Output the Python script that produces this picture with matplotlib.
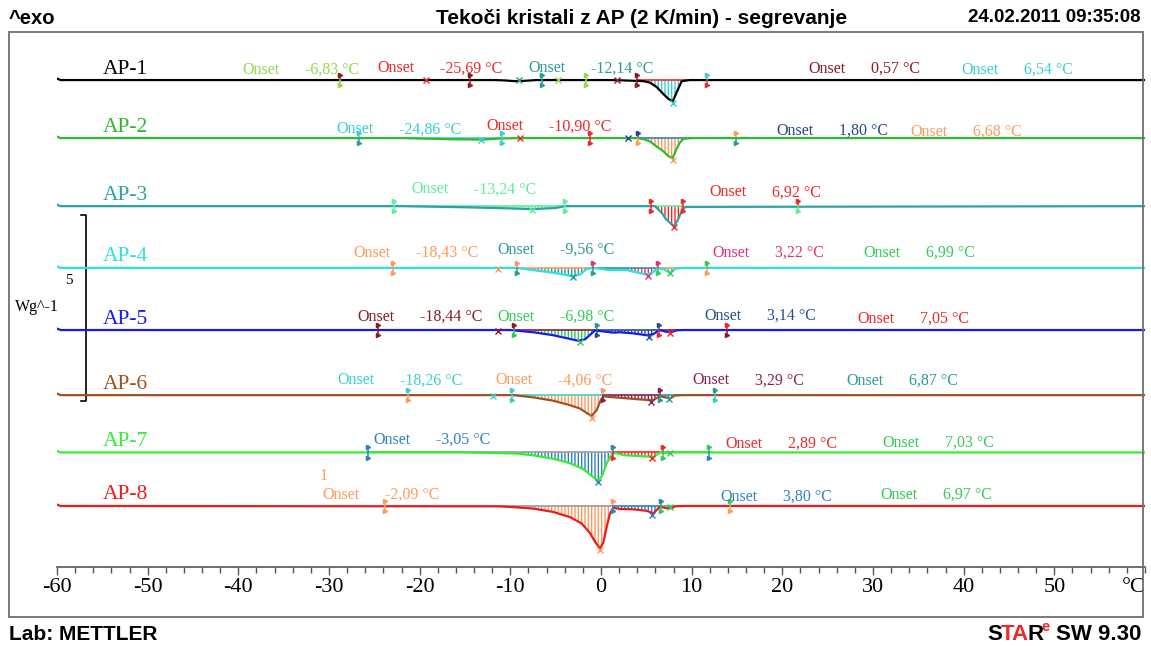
import numpy as np
import matplotlib.pyplot as plt
from matplotlib.patches import Rectangle

W, H = 1151, 646
SERIF = "Liberation Serif"
SANS = "Liberation Sans"

# annotation colours
YG = "#8fd94a"
RED = "#f02828"
TEAL = "#2a9a9a"
DRED = "#8b1c24"
CYAN = "#3ccfcf"
ORANGE = "#ff9a5c"
DBLUE = "#24478f"
LGREEN = "#5eeea0"
MAG = "#e0307e"
GREEN = "#33cc55"
NAVY = "#24508f"
DMAG = "#8b1f55"
BLUE = "#2e82c4"

names = ["AP-1", "AP-2", "AP-3", "AP-4", "AP-5", "AP-6", "AP-7", "AP-8"]
curve_colors = ["#000000", "#2dbb2d", "#2aa3a3", "#2ee0e0",
                "#1a1aee", "#a0521e", "#33ee33", "#ee1a1a"]
# display offset of every curve, W/g
offsets = [13.09, 11.53, 9.70, 8.04, 6.37, 4.62, 3.08, 1.64]

# heating curves: temperature (°C) and heat flow (W/g) relative to the offset
ap1_t = [-60.0, -59.6, -11.7, -10.6, -9.5, -8.4, -7.1, 1.0, 2.6, 4.7, 5.4, 6.1,
         6.9, 7.4, 7.9, 8.4, 8.9, 9.8, 60.0]
ap1_hf = [0.04, 0.0, 0.0, -0.01, -0.03, -0.02, 0.0, 0.0, -0.01, -0.03, -0.07, -0.18,
          -0.38, -0.50, -0.58, -0.30, -0.03, 0.0, 0.0]

ap2_t = [-60.0, -59.6, -22.0, -17.0, -13.0, -11.0, -9.0, 4.0, 4.7, 5.4, 6.1, 6.9,
         7.4, 7.9, 8.3, 8.7, 9.1, 10.0, 60.0]
ap2_hf = [0.04, 0.0, 0.0, -0.03, -0.04, -0.01, 0.0, 0.0, -0.03, -0.09, -0.22, -0.36,
          -0.48, -0.54, -0.31, -0.12, -0.02, 0.0, 0.0]

ap3_t = [-60.0, -59.6, -22.0, -15.0, -10.0, -7.6, -5.0, -4.0, 5.95, 6.7, 7.2, 8.05,
         8.5, 8.9, 9.3, 60.0]
ap3_hf = [0.04, 0.0, 0.0, -0.03, -0.06, -0.08, -0.05, 0.0, 0.0, -0.18, -0.36, -0.54,
          -0.36, -0.13, -0.02, 0.0]

ap4_t = [-60.0, -59.6, -9.26, -7.46, -5.26, -3.23, -2.32, -1.58, -0.85, 0.63, 2.83,
         5.04, 5.73, 6.28, 7.06, 7.61, 8.16, 8.71, 60.0]
ap4_hf = [0.04, 0.0, 0.0, -0.06, -0.13, -0.22, -0.18, -0.03, 0.0, -0.05, -0.06,
          -0.18, -0.12, 0.0, -0.05, -0.13, -0.03, 0.0, 0.0]

ap5_t = [-60.0, -59.6, -10.03, -7.46, -5.26, -3.78, -2.50, -1.76, -1.21, -0.66, 0.63,
         1.36, 2.09, 3.56, 5.04, 5.77, 6.43, 7.24, 7.79, 8.27, 9.07, 60.0]
ap5_hf = [0.04, 0.0, 0.0, -0.06, -0.14, -0.22, -0.29, -0.25, -0.13, -0.01, -0.05,
          -0.07, -0.06, -0.09, -0.14, -0.11, 0.0, -0.05, -0.06, -0.01, 0.0, 0.0]

ap6_t = [-60.0, -59.6, -9.67, -7.46, -5.26, -3.42, -2.32, -1.58, -1.03, -0.47, -0.11,
         0.25, 0.99, 2.09, 3.56, 5.04, 5.77, 6.50, 7.06, 7.61, 8.16, 9.07, 60.0]
ap6_hf = [0.04, 0.0, 0.0, -0.06, -0.15, -0.27, -0.36, -0.48, -0.56, -0.40, -0.18,
          -0.03, -0.05, -0.07, -0.10, -0.13, -0.13, -0.03, -0.06, -0.09, -0.01, 0.0, 0.0]

ap7_t = [-60.0, -59.6, -15.55, -11.14, -9.29, -7.46, -5.26, -3.42, -1.95, -1.03, -0.36,
         0.08, 0.63, 1.18, 1.54, 2.46, 3.56, 5.04, 5.77, 6.50, 7.24, 7.97, 60.0]
ap7_hf = [0.04, 0.0, 0.0, -0.02, -0.03, -0.08, -0.17, -0.29, -0.45, -0.63, -0.76,
          -0.65, -0.29, -0.06, -0.01, -0.07, -0.09, -0.11, -0.13, 0.0, -0.02, 0.0, 0.0]

ap8_t = [-60.0, -59.6, -11.14, -9.67, -7.46, -5.26, -3.42, -2.13, -1.21, -0.66, -0.11,
         0.25, 0.63, 0.99, 1.36, 2.09, 3.56, 5.04, 5.77, 6.50, 7.24, 7.79, 8.16, 9.0, 60.0]
ap8_hf = [0.04, 0.0, -0.01, -0.03, -0.07, -0.16, -0.30, -0.47, -0.73, -0.96, -1.14,
          -0.99, -0.56, -0.20, -0.05, -0.08, -0.09, -0.13, -0.20, -0.02, -0.06, -0.06,
          -0.01, 0.0, 0.0]

temps = [ap1_t, ap2_t, ap3_t, ap4_t, ap5_t, ap6_t, ap7_t, ap8_t]
flows = [ap1_hf, ap2_hf, ap3_hf, ap4_hf, ap5_hf, ap6_hf, ap7_hf, ap8_hf]

# onset values (°C) per curve and their colours
onset_vals = [["-6,83", "-25,69", "-12,14", "0,57", "6,54"],
              ["-24,86", "-10,90", "1,80", "6,68"],
              ["-13,24", "6,92"],
              ["-18,43", "-9,56", "3,22", "6,99"],
              ["-18,44", "-6,98", "3,14", "7,05"],
              ["-18,26", "-4,06", "3,29", "6,87"],
              ["-3,05", "2,89", "7,03"],
              ["-2,09", "3,80", "6,97"]]
onset_colors = [[YG, RED, TEAL, DRED, CYAN],
                [CYAN, RED, DBLUE, ORANGE],
                [LGREEN, RED],
                [ORANGE, TEAL, MAG, GREEN],
                [DRED, GREEN, NAVY, RED],
                [CYAN, ORANGE, DMAG, TEAL],
                [BLUE, RED, GREEN],
                [ORANGE, BLUE, GREEN]]
# where the "Onset" words sit (°C, W/g above the curve offset)
onset_pos = [[(-39.5, 0.27), (-24.7, 0.32), (-8.0, 0.32), (22.9, 0.30), (39.8, 0.27)],
             [(-29.2, 0.24), (-12.6, 0.32), (19.3, 0.19), (34.1, 0.16)],
             [(-20.9, 0.45), (12.0, 0.37)],
             [(-27.3, 0.41), (-11.4, 0.49), (12.3, 0.41), (28.9, 0.41)],
             [(-26.9, 0.35), (-11.4, 0.35), (11.4, 0.38), (28.3, 0.30)],
             [(-29.1, 0.40), (-11.6, 0.40), (10.1, 0.40), (27.1, 0.38)],
             [(-25.1, 0.34), (13.7, 0.23), (31.0, 0.26)],
             [(-30.7, 0.30), (13.2, 0.24), (30.8, 0.30)]]

# integration limits: temperature, colour of upper and lower flag
limits = [[(-28.8, DRED, YG), (-14.4, DRED, DRED), (-6.5, TEAL, TEAL), (-1.7, YG, YG),
           (4.0, DRED, DRED), (11.7, CYAN, RED)],
          [(-26.7, CYAN, TEAL), (-10.9, CYAN, CYAN), (-1.2, RED, RED), (4.1, DBLUE, ORANGE),
           (14.9, ORANGE, TEAL)],
          [(-22.8, LGREEN, LGREEN), (-4.0, LGREEN, LGREEN), (5.5, RED, RED), (9.0, RED, RED),
           (21.7, RED, LGREEN)],
          [(-22.9, ORANGE, ORANGE), (-9.3, ORANGE, TEAL), (-0.9, MAG, TEAL), (6.3, MAG, GREEN),
           (11.7, GREEN, ORANGE)],
          [(-24.6, DRED, DRED), (-9.6, DRED, GREEN), (-0.4, TEAL, NAVY), (6.4, NAVY, RED),
           (13.9, RED, DRED)],
          [(-21.3, CYAN, ORANGE), (-9.8, CYAN, CYAN), (0.2, ORANGE, DMAG), (6.5, DMAG, TEAL),
           (12.6, TEAL, CYAN)],
          [(-25.7, BLUE, BLUE), (1.3, BLUE, RED), (6.8, RED, GREEN), (11.9, GREEN, BLUE)],
          [(-23.8, ORANGE, ORANGE), (1.3, ORANGE, BLUE), (6.6, BLUE, GREEN), (14.2, GREEN, ORANGE)]]

# peak / onset crosses: temperature, heat flow, colour
crosses = [[(-19.3, 0.0, RED), (-9.0, 0.0, TEAL), (-4.7, 0.0, YG), (1.8, 0.0, DRED),
            (7.9, -0.62, CYAN)],
           [(-13.2, -0.05, CYAN), (-8.9, 0.0, RED), (3.0, 0.0, DBLUE), (7.9, -0.58, ORANGE)],
           [(-7.6, -0.09, LGREEN), (8.05, -0.57, RED)],
           [(-11.4, -0.02, ORANGE), (-3.1, -0.24, TEAL), (5.2, -0.22, MAG), (7.6, -0.15, GREEN)],
           [(-11.4, -0.02, DRED), (-2.3, -0.31, GREEN), (5.3, -0.18, NAVY), (7.6, -0.08, RED)],
           [(-11.9, -0.02, CYAN), (-1.0, -0.62, ORANGE), (5.5, -0.18, DMAG), (7.5, -0.10, TEAL)],
           [(-0.3, -0.80, BLUE), (5.6, -0.15, RED), (7.6, -0.01, GREEN)],
           [(-0.1, -1.18, ORANGE), (5.6, -0.24, BLUE), (7.6, -0.02, GREEN)]]

# integrated areas: from, to, hatch colour, baseline colour
areas = [[(4.0, 11.7, CYAN, RED)],
         [(-26.7, -10.9, CYAN, CYAN), (4.1, 14.9, ORANGE, BLUE)],
         [(-22.8, -4.0, LGREEN, LGREEN), (5.5, 9.0, RED, LGREEN)],
         [(-9.3, -0.9, TEAL, ORANGE), (-0.9, 6.3, MAG, TEAL), (6.3, 11.7, GREEN, ORANGE)],
         [(-9.6, -0.4, GREEN, DRED), (-0.4, 6.4, NAVY, NAVY), (6.4, 13.9, RED, DRED)],
         [(-9.8, 0.2, ORANGE, CYAN), (0.2, 6.5, DMAG, DMAG), (6.5, 12.6, TEAL, TEAL)],
         [(-25.7, 1.3, BLUE, "#999999"), (1.3, 6.8, RED, RED), (6.8, 11.9, GREEN, GREEN)],
         [(-23.8, 1.3, ORANGE, "#999999"), (1.3, 6.6, BLUE, BLUE), (6.6, 14.2, GREEN, GREEN)]]

major_ticks = np.arange(-60, 51, 10)
minor_ticks = np.arange(-60, 61, 2)

PX_PER_WG = 37.2  # vertical scale: 5 W/g bar is 186 px tall

plt.rcParams["hatch.linewidth"] = 1.0

fig = plt.figure(figsize=(W / 100, H / 100), dpi=100)
ax = fig.add_axes([57 / W, (H - 567) / H, (1145 - 57) / W, (567 - 32) / H])
ax.set_xlim(-60, 60)
ax.set_ylim(0, (567 - 32) / PX_PER_WG)
ax.patch.set_alpha(0)

for s in ["top", "left", "right"]:
    ax.spines[s].set_visible(False)
ax.spines["bottom"].set_color("#555555")
ax.spines["bottom"].set_linewidth(1.2)
ax.set_yticks([])
ax.set_xticks(major_ticks)
ax.set_xticks(minor_ticks, minor=True)
ax.set_xticklabels([str(v) for v in major_ticks])
ax.tick_params(axis="x", which="major", direction="out", length=6, width=1,
               color="#555555", pad=2, labelsize=16)
ax.tick_params(axis="x", which="minor", direction="out", length=4, width=1,
               color="#555555")
for lab in ax.get_xticklabels():
    lab.set_fontfamily(SERIF)
ax.text(58.8, -11 / PX_PER_WG, "°C", fontsize=16, family=SERIF, ha="center", va="top",
        clip_on=False)

for i in range(len(names)):
    t = np.array(temps[i])
    hf = np.array(flows[i])
    base = offsets[i]
    y = base + hf

    # integrated areas with their baselines
    for t0, t1, hc, bc in areas[i]:
        mask = (t >= t0) & (t <= t1)
        ax.fill_between(t, base, y, where=mask, facecolor="none", edgecolor=hc,
                        hatch="|||||", linewidth=0, zorder=1)
        ax.plot([t0, t1], [base, base], color=bc, lw=1.2, zorder=1.5)

    ax.plot(t, y, color=curve_colors[i], lw=1.6, zorder=3)

    for tl, ctop, cbot in limits[i]:
        ax.plot([tl, tl], [base, base + 0.17], color=ctop, lw=1.1, zorder=4)
        ax.plot([tl, tl], [base, base - 0.17], color=cbot, lw=1.1, zorder=4)
        ax.plot(tl, base + 0.14, marker=">", ms=3, color=ctop, zorder=4)
        ax.plot(tl, base - 0.14, marker=">", ms=3, color=cbot, zorder=4)

    for tx, hx, cx in crosses[i]:
        ax.plot(tx, base + hx, marker="x", ms=5, mew=1, color=cx, zorder=4)

    for (tx, dy), val, c in zip(onset_pos[i], onset_vals[i], onset_colors[i]):
        ax.text(tx, base + dy, "Onset", color=c, fontsize=11.5, family=SERIF,
                ha="left", va="center", zorder=5)
        ax.text(tx + 6.9, base + dy, val + " °C", color=c, fontsize=11.5, family=SERIF,
                ha="left", va="center", zorder=5)

    ax.text(-55.0, base + 11 / PX_PER_WG, names[i], color=curve_colors[i],
            fontsize=15.5, family=SERIF, ha="left", va="center", zorder=5)

# segment number above the last onset pair
ax.text(-31.0, offsets[7] + 0.81, "1", color=ORANGE, fontsize=11.5, family=SERIF,
        ha="left", va="center")

# 5 W/g scale bar
bar_x, cap_x = -56.8, -57.4
bar_top = (567 - 215) / PX_PER_WG
bar_bot = bar_top - 5
ax.plot([cap_x, bar_x, bar_x, cap_x], [bar_top, bar_top, bar_bot, bar_bot],
        color="black", lw=1.2, zorder=2)
ax.text(-58.65, (567 - 281) / PX_PER_WG, "5", fontsize=11, family=SERIF,
        ha="center", va="center")
ax.text(-64.6, (567 - 307) / PX_PER_WG, "Wg^-1", fontsize=11.5, family=SERIF,
        ha="left", va="center", clip_on=False)

# outer frame
fig.patches.append(Rectangle((9 / W, (H - 617) / H), (1143 - 9) / W, (617 - 32) / H,
                             transform=fig.transFigure, fill=False,
                             edgecolor="#707070", lw=1.3))

# header and footer
hdr = dict(family=SANS, weight="bold", va="center")
fig.text(9 / W, 1 - 18 / H, "^exo", ha="left", fontsize=14.5, **hdr)
fig.text(642 / W, 1 - 18 / H, "Tekoči kristali z AP (2 K/min) - segrevanje", ha="center",
         fontsize=15, **hdr)
fig.text(1141 / W, 1 - 18 / H, "24.02.2011 09:35:08", ha="right", fontsize=13.5, **hdr)
fig.text(9 / W, 1 - 634 / H, "Lab: METTLER", ha="left", fontsize=15, **hdr)

# software logo: "SW 9.30", superscript e, then STAR with a red "TA"
renderer = fig.canvas.get_renderer()
foot_y = (H - 634) / H


def text_width(s, size):
    tmp = fig.text(0, 0, s, fontsize=size, **hdr)
    w = tmp.get_window_extent(renderer).width
    tmp.remove()
    return w


sw = fig.text(1141 / W, foot_y, "SW 9.30", color="black", fontsize=16, ha="right", **hdr)
x = sw.get_window_extent(renderer).x0 - 6
sup = fig.text(x / W, foot_y + 7 / H, "e", color=RED, fontsize=10.5, ha="right", **hdr)
x_end = sup.get_window_extent(renderer).x0 + 2
x0 = x_end - text_width("STAR", 16) + 3
w_s = text_width("S", 16)
w_sta = text_width("STA", 16)
fig.text(x0 / W, foot_y, "S", color="black", fontsize=16, ha="left", **hdr)
fig.text((x0 + w_s - 1) / W, foot_y, "TA", color=RED, fontsize=16, ha="left", **hdr)
fig.text((x0 + w_sta - 3) / W, foot_y, "R", color="black", fontsize=16, ha="left", **hdr)

fig.savefig("out.png", dpi=100)
